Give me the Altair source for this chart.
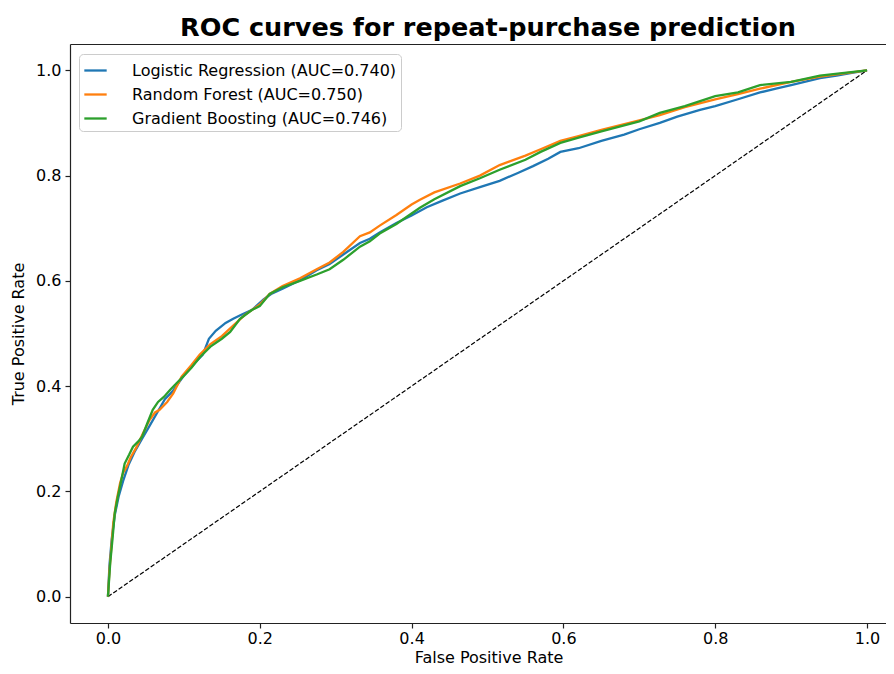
import altair as alt
import pandas as pd

series_names = ["Logistic Regression (AUC=0.740)", "Random Forest (AUC=0.750)", "Gradient Boosting (AUC=0.746)"]
series_colors = ["#1f77b4", "#ff7f0e", "#2ca02c"]

lr_fpr = [0, 0.002, 0.005, 0.009, 0.014, 0.02, 0.027, 0.035, 0.045, 0.055, 0.065, 0.075, 0.085, 0.10, 0.115, 0.125,
          0.133, 0.142, 0.155, 0.165, 0.175, 0.19, 0.205, 0.215, 0.23, 0.253, 0.275, 0.292, 0.31, 0.332, 0.345, 0.358,
          0.38, 0.40, 0.42, 0.44, 0.464, 0.49, 0.516, 0.54, 0.56, 0.58, 0.596, 0.62, 0.65, 0.68, 0.70, 0.727, 0.75,
          0.78, 0.80, 0.83, 0.859, 0.88, 0.90, 0.938, 0.96, 0.98, 1.0]
lr_tpr = [0, 0.06, 0.11, 0.155, 0.19, 0.22, 0.25, 0.275, 0.30, 0.325, 0.35, 0.375, 0.39, 0.42, 0.445, 0.46,
          0.49, 0.505, 0.52, 0.528, 0.535, 0.545, 0.565, 0.575, 0.585, 0.601, 0.62, 0.632, 0.65, 0.672, 0.68, 0.692,
          0.71, 0.724, 0.74, 0.752, 0.766, 0.778, 0.79, 0.805, 0.818, 0.832, 0.845, 0.852, 0.866, 0.878, 0.888, 0.90,
          0.912, 0.925, 0.932, 0.945, 0.958, 0.965, 0.972, 0.985, 0.99, 0.995, 1.0]

rf_fpr = [0, 0.002, 0.004, 0.007, 0.011, 0.016, 0.02, 0.025, 0.03, 0.038, 0.046, 0.055, 0.062, 0.068, 0.078, 0.086,
          0.097, 0.11, 0.121, 0.135, 0.15, 0.165, 0.18, 0.2, 0.213, 0.23, 0.253, 0.275, 0.292, 0.31, 0.332, 0.345,
          0.358, 0.38, 0.40, 0.411, 0.43, 0.464, 0.49, 0.516, 0.55, 0.57, 0.596, 0.62, 0.65, 0.70, 0.727, 0.76, 0.80,
          0.83, 0.859, 0.90, 0.938, 0.97, 1.0]
rf_tpr = [0, 0.05, 0.085, 0.14, 0.18, 0.216, 0.235, 0.248, 0.265, 0.285, 0.31, 0.336, 0.35, 0.355, 0.37, 0.386,
          0.418, 0.44, 0.46, 0.48, 0.495, 0.515, 0.535, 0.555, 0.575, 0.59, 0.605, 0.622, 0.635, 0.655, 0.685, 0.692,
          0.705, 0.725, 0.745, 0.754, 0.768, 0.785, 0.80, 0.82, 0.838, 0.85, 0.866, 0.875, 0.887, 0.905, 0.915, 0.93,
          0.945, 0.955, 0.965, 0.978, 0.988, 0.994, 1.0]

gb_fpr = [0, 0.003, 0.006, 0.009, 0.013, 0.016, 0.022, 0.028, 0.033, 0.04, 0.045, 0.052, 0.059, 0.066, 0.074, 0.082,
          0.09, 0.099, 0.11, 0.121, 0.135, 0.15, 0.161, 0.174, 0.19, 0.2, 0.213, 0.23, 0.253, 0.275, 0.292, 0.31,
          0.332, 0.345, 0.358, 0.38, 0.40, 0.411, 0.43, 0.464, 0.49, 0.516, 0.55, 0.57, 0.596, 0.62, 0.65, 0.70,
          0.727, 0.76, 0.80, 0.83, 0.859, 0.90, 0.938, 0.97, 1.0]
gb_tpr = [0, 0.064, 0.11, 0.159, 0.19, 0.21, 0.253, 0.27, 0.285, 0.295, 0.304, 0.33, 0.355, 0.37, 0.38, 0.393,
          0.405, 0.418, 0.435, 0.455, 0.475, 0.49, 0.503, 0.528, 0.545, 0.552, 0.575, 0.588, 0.60, 0.612, 0.622, 0.64,
          0.665, 0.675, 0.69, 0.708, 0.728, 0.739, 0.755, 0.78, 0.795, 0.811, 0.83, 0.845, 0.862, 0.872, 0.884, 0.903,
          0.919, 0.932, 0.951, 0.958, 0.972, 0.978, 0.99, 0.995, 1.0]

chance_x = [0.0, 1.0]
chance_y = [0.0, 1.0]

tick_values = [0.0, 0.2, 0.4, 0.6, 0.8, 1.0]

rows = []
for name, xs, ys in zip(series_names, [lr_fpr, rf_fpr, gb_fpr], [lr_tpr, rf_tpr, gb_tpr]):
    for i, (a, b) in enumerate(zip(xs, ys)):
        rows.append({"model": name, "fpr": a, "tpr": b, "i": i})
df = pd.DataFrame(rows)
diag = pd.DataFrame({"fpr": chance_x, "tpr": chance_y})

FONT = "DejaVu Sans"
W, H = 816, 579
xscale = alt.Scale(domain=[-0.05, 1.025], nice=False, zero=False)
yscale = alt.Scale(domain=[-0.05, 1.05], nice=False, zero=False)

x_bottom = alt.X("fpr:Q", scale=xscale, axis=alt.Axis(
    title="False Positive Rate", values=tick_values, format=".1f", orient="bottom", labelPadding=2,
    titleX=418.5, titleY=39, titleBaseline="alphabetic", titleAnchor="start", titleAlign="center"))
x_top = alt.X("fpr:Q", scale=xscale, axis=alt.Axis(
    title=None, orient="top", labels=False, ticks=False, grid=False))
y_axis = alt.Axis(title="True Positive Rate", values=tick_values, format=".1f",
                  titleX=-44, titleY=H / 2, titleAnchor="start", titleAlign="center")
y_left = alt.Y("tpr:Q", scale=yscale, axis=y_axis)

diag_layer = alt.Chart(diag).mark_line(color="black", strokeWidth=1.2, strokeDash=[4.5, 2]).encode(
    x=x_top, y=y_left
)

curves = alt.Chart(df).mark_line(strokeWidth=2.3, interpolate="linear").encode(
    x=x_bottom,
    y=alt.Y("tpr:Q", scale=yscale, axis=y_axis),
    color=alt.Color("model:N", scale=alt.Scale(domain=series_names, range=series_colors),
                    sort=series_names,
                    legend=alt.Legend(title=None, orient="none", legendX=9, legendY=10,
                                      symbolType="stroke", symbolSize=500, symbolStrokeWidth=2.3,
                                      labelFontSize=16, labelFont=FONT, labelOffset=24, labelLimit=500,
                                      rowPadding=3, padding=4, strokeColor="#cccccc",
                                      fillColor="white", cornerRadius=4, labelColor="#000000")),
    order="i:Q",
)

chart = alt.layer(diag_layer, curves).resolve_axis(x="independent").properties(
    width=W, height=H,
    autosize=alt.AutoSizeParams(type="none"),
    padding={"left": 62, "top": 36, "right": 0, "bottom": 43},
    title=alt.Title("ROC curves for repeat-purchase prediction", font=FONT, fontSize=25.5,
                    fontWeight="bold", color="black", baseline="alphabetic", offset=8.5, dx=10, dy=25.5,
                    anchor="middle"),
).configure_view(stroke=None).configure_axis(
    labelFont=FONT, titleFont=FONT, labelFontSize=16, titleFontSize=16, titleFontWeight="normal",
    labelColor="black", titleColor="black", domainColor="#222222", domainWidth=1.2,
    tickColor="#222222", tickWidth=1.2, tickSize=5, labelPadding=4, grid=False,
)

chart.save("out.html", embed_options={"renderer": "svg", "actions": False})
